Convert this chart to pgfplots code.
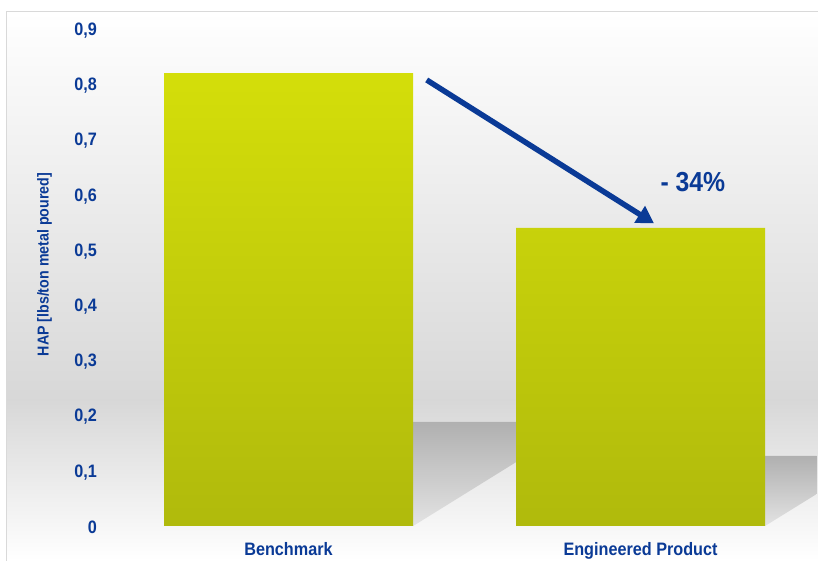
\documentclass[border=0pt]{standalone}
\usepackage{fontspec}
\setmainfont{Liberation Sans}[FakeStretch=0.9]
\usepackage{pgfplots}
\pgfplotsset{compat=1.18}
\usetikzlibrary{arrows.meta}
\definecolor{hapblue}{RGB}{10,58,150}
\definecolor{bartop}{RGB}{212,222,10}
\definecolor{barmid}{RGB}{206,216,10}
\definecolor{barbot}{RGB}{176,186,12}
\begin{document}
\begin{tikzpicture}
\path[use as bounding box] (0pt,0pt) rectangle (818pt,561pt);
% background panel
\shade[top color=white, bottom color=gray!31] (6pt,161pt) rectangle (818pt,549pt);
\shade[top color=gray!31, bottom color=white] (6pt,0pt) rectangle (818pt,161pt);
\draw[gray!30, line width=1pt] (6pt,-5pt) -- (6pt,549pt) -- (830pt,549pt);
\begin{axis}[
  at={(112.5pt,35pt)}, anchor=south west,
  scale only axis, width=704pt, height=497pt,
  xmin=-0.5, xmax=1.5, ymin=0, ymax=0.9,
  axis line style={draw=none}, major tick length=0pt,
  xtick={0,1}, xticklabels={Benchmark, Engineered Product},
  ytick={0,0.1,...,0.9},
  /pgf/number format/.cd, use comma, fixed, precision=1, assume math mode=true,
  /pgfplots/.cd,
  yticklabel style={font=\fontsize{18}{20}\selectfont\bfseries, text=hapblue, anchor=east, xshift=-12pt, yshift=-1.5pt},
  xticklabel style={font=\fontsize{18}{20}\selectfont\bfseries, text=hapblue, yshift=-13pt},
  ylabel={HAP [lbs/ton metal poured]},
  every axis y label/.style={at={(axis description cs:-0.0966,0.526)}, rotate=90, anchor=center,
     font=\fontsize{15.8}{18}\selectfont\bfseries, text=hapblue},
  clip=true,
]
% floor shadows
\addplot[draw=none, top color=gray!62, bottom color=gray!22] coordinates {(-0.354,0) (0.354,0) (0.831,0.1886) (0.123,0.1886)} -- cycle;
\addplot[draw=none, top color=gray!62, bottom color=gray!22] coordinates {(0.6463,0) (1.3537,0) (1.675,0.1268) (0.967,0.1268)} -- cycle;
% bars
\addplot[ybar, bar width=249pt, draw=none, top color=bartop, middle color=barmid, bottom color=barbot] coordinates {(0,0.82) (1,0.54)};
% arrow and annotation
\draw[hapblue, line width=5.5pt, -{Triangle[length=17pt,width=19pt]}] (axis cs:0.3926,0.8077) -- (axis cs:1.0384,0.548);
\node[text=hapblue, font=\fontsize{27.5}{30}\selectfont\bfseries] at (axis cs:1.149,0.622) {- 34\%};
\end{axis}
\end{tikzpicture}
\end{document}
